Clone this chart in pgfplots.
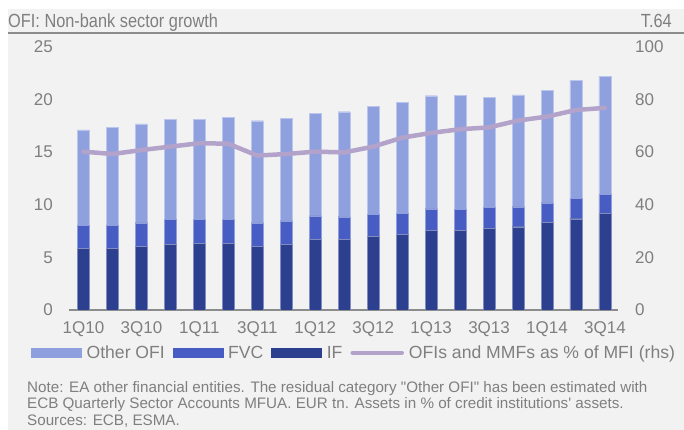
\documentclass[border=0pt]{standalone}
\usepackage{pgfplots}
\pgfplotsset{compat=1.18}
\usepackage{fontspec}
\setmainfont{Liberation Sans}
\newfontfamily\titlefont{Liberation Sans}[FakeStretch=0.86]
\newfontfamily\notefont{Liberation Sans}
\definecolor{bg}{HTML}{F2F2F2}
\definecolor{txt}{HTML}{7F7F7F}
\definecolor{cother}{HTML}{8FA0DF}
\definecolor{cfvc}{HTML}{475DC4}
\definecolor{cif}{HTML}{2D3F8F}
\definecolor{cline}{HTML}{B3A3CB}
\definecolor{axln}{HTML}{8C8C8C}

\pgfplotstableread{
x IF FVC Other Ratio
0 5.85 2.21 9.02 60.1
1 5.85 2.21 9.30 59.2
2 6.04 2.24 9.37 60.7
3 6.23 2.40 9.46 62.0
4 6.33 2.24 9.55 63.3
5 6.33 2.24 9.71 63.1
6 6.07 2.21 9.68 58.6
7 6.23 2.24 9.68 59.2
8 6.67 2.25 9.77 60.1
9 6.69 2.16 9.96 59.8
10 6.99 2.09 10.24 62.0
11 7.18 2.02 10.53 65.4
12 7.56 2.05 10.72 67.2
13 7.56 1.96 10.85 68.6
14 7.75 1.96 10.47 69.3
15 7.90 1.90 10.60 71.9
16 8.32 1.86 10.63 73.4
17 8.66 1.90 11.23 75.9
18 9.14 1.80 11.26 76.7
}\datatable

\begin{document}
\begin{tikzpicture}
% background and frame
\useasboundingbox (-69bp,-120bp) rectangle (615bp,310bp);
\fill[bg] (-61bp,-120bp) rectangle (615bp,301bp);
\fill[white] (-61bp,301bp) rectangle (615bp,310bp);
\node[anchor=base west, inner sep=0pt, text=txt, font=\titlefont\fontsize{19bp}{22bp}\selectfont] at (-61bp,282bp) {OFI: Non-bank sector growth};
\node[anchor=base east, inner sep=0pt, text=txt, font=\titlefont\fontsize{19bp}{22bp}\selectfont] at (603bp,282bp) {T.64};
\draw[axln, line width=1.6bp] (-61bp,277bp) -- (615bp,277bp);

\pgfplotsset{
  common/.style={
    scale only axis, width=549bp, height=263.5bp,
    at={(0,0)}, anchor=south west,
    xmin=-0.5, xmax=18.45,
    major tick length=0pt,
    tick label style={font=\fontsize{17bp}{20bp}\selectfont, text=txt, inner sep=0pt},
    /pgf/number format/assume math mode=true,
  }
}
\begin{axis}[common,
  ymin=0, ymax=25, ytick={0,5,...,25},
  axis lines*=left,
  y axis line style={draw=none},
  x axis line style={draw=axln, line width=1.5bp},
  xtick={0,2,...,18},
  xticklabels={1Q10,3Q10,1Q11,3Q11,1Q12,3Q12,1Q13,3Q13,1Q14,3Q14},
  xticklabel style={anchor=north, yshift=-11bp},
  yticklabel style={anchor=east, xshift=-16bp},
  ybar stacked, bar width=12bp,
]
\addplot[fill=cif, draw=cif!60!white, line width=0.4bp] table[x=x,y=IF]{\datatable};
\addplot[fill=cfvc, draw=cfvc!60!white, line width=0.4bp] table[x=x,y=FVC]{\datatable};
\addplot[fill=cother, draw=cother!60!white, line width=0.4bp] table[x=x,y=Other]{\datatable};
\end{axis}
\begin{axis}[common,
  ymin=0, ymax=100, ytick={0,20,...,100},
  axis y line*=right, axis x line=none,
  y axis line style={draw=none},
  yticklabel style={anchor=west, xshift=17bp},
  legend columns=-1,
  legend style={at={(-0.0692,-0.163)}, anchor=west, draw=none, fill=none, inner sep=0pt,
    font=\fontsize{17.6bp}{20bp}\selectfont, text=txt,
    nodes={inner sep=0pt},
    /tikz/every odd column/.append style={column sep=5bp},
    /tikz/every even column/.append style={column sep=8bp}},
]
\addlegendimage{legend image code/.code={\fill[cother] (0bp,-4.7bp) rectangle (50bp,4.7bp);}}
\addlegendentry{Other OFI}
\addlegendimage{legend image code/.code={\fill[cfvc] (0bp,-4.7bp) rectangle (50bp,4.7bp);}}
\addlegendentry{FVC}
\addlegendimage{legend image code/.code={\fill[cif] (0bp,-4.7bp) rectangle (50bp,4.7bp);}}
\addlegendentry{IF}
\addplot[cline, line width=4.5bp, line join=round, line cap=round,
  legend image code/.code={\draw[cline, line width=4.5bp, line cap=round] (2bp,0bp) -- (51bp,0bp);}]
  table[x=x,y=Ratio]{\datatable};
\addlegendentry{OFIs and MMFs as \% of MFI (rhs)}
\end{axis}

\node[anchor=north west, inner sep=0pt, align=left, text=txt,
  font=\notefont\fontsize{15.2bp}{16.6bp}\selectfont] at (-42bp,-71bp)
{Note: EA other financial entities. The residual category "Other OFI" has been estimated with\\
ECB Quarterly Sector Accounts MFUA. EUR tn. Assets in \% of credit institutions' assets.\\
Sources: ECB, ESMA.};
\end{tikzpicture}
\end{document}
